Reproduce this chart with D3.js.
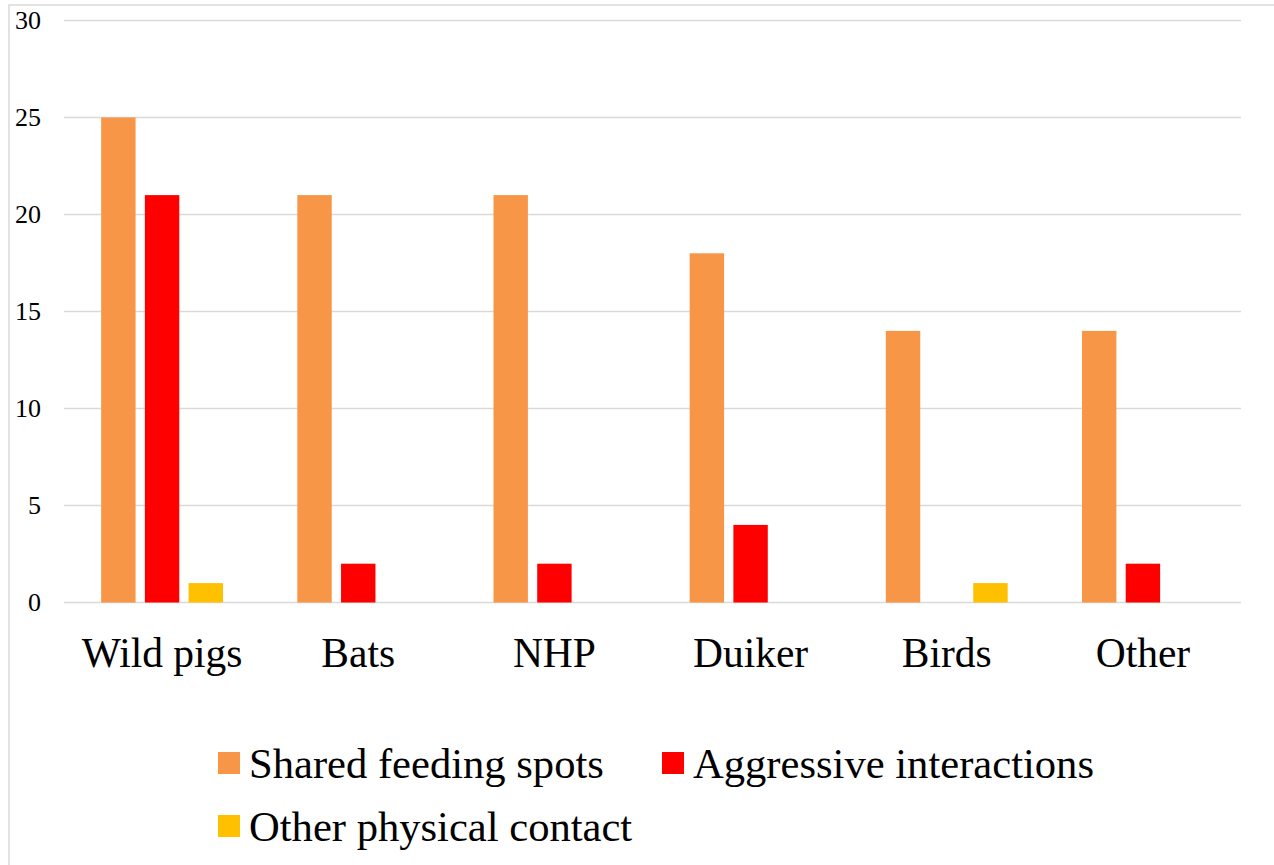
<!DOCTYPE html>
<html>
<head>
<meta charset="utf-8">
<script src="https://cdn.jsdelivr.net/npm/d3@7"></script>
<style>
  body { margin: 0; background: #fff; }
  svg text { font-family: "Liberation Serif", "Times New Roman", serif; fill: #000; }
</style>
</head>
<body>
<div id="chart"></div>
<script>
// data
const categories = ["Wild pigs", "Bats", "NHP", "Duiker", "Birds", "Other"];
const seriesNames = ["Shared feeding spots", "Aggressive interactions", "Other physical contact"];
const sharedFeeding = [25, 21, 21, 18, 14, 14];
const aggressive = [21, 2, 2, 4, 0, 2];
const physicalContact = [1, 0, 0, 0, 1, 0];
const yTicks = [0, 5, 10, 15, 20, 25, 30];
const colors = ["#F79646", "#FF0000", "#FFC000"];

const seriesValues = [sharedFeeding, aggressive, physicalContact];

const W = 1274, H = 865;
const plot = {left: 64, right: 1241, top: 20.5, bottom: 602.5};

const svg = d3.select("#chart").append("svg")
    .attr("width", W)
    .attr("height", H);

// outer frame
svg.append("rect")
    .attr("x", 9).attr("y", 5)
    .attr("width", W + 20).attr("height", H + 20)
    .attr("fill", "none")
    .attr("stroke", "#d9d9d9")
    .attr("stroke-width", 1.5);

// scales
const x0 = d3.scaleBand().domain(categories).range([plot.left, plot.right]).paddingInner(0).paddingOuter(0);
const x1 = d3.scaleBand().domain(d3.range(seriesNames.length))
    .range([0, x0.bandwidth()]).paddingInner(0.213).paddingOuter(0.85);
const y = d3.scaleLinear().domain([0, 30]).range([plot.bottom, plot.top]);

// grid
svg.append("g").selectAll("line")
    .data(yTicks)
    .join("line")
    .attr("x1", plot.left).attr("x2", plot.right)
    .attr("y1", d => y(d)).attr("y2", d => y(d))
    .attr("stroke", "#d9d9d9")
    .attr("stroke-width", 1.5);

// y axis labels
svg.append("g").selectAll("text")
    .data(yTicks)
    .join("text")
    .attr("x", 41)
    .attr("y", d => y(d))
    .attr("dy", "0.34em")
    .attr("text-anchor", "end")
    .style("font-size", "26px")
    .text(d => d);

// bars
const groups = svg.append("g").selectAll("g")
    .data(categories)
    .join("g")
    .attr("transform", d => `translate(${x0(d)},0)`);

groups.selectAll("rect")
    .data((d, i) => seriesValues.map((s, k) => ({k: k, v: s[i]})))
    .join("rect")
    .filter(d => d.v > 0)
    .attr("x", d => x1(d.k))
    .attr("width", x1.bandwidth())
    .attr("y", d => y(d.v))
    .attr("height", d => y(0) - y(d.v))
    .attr("fill", d => colors[d.k]);

// category labels
svg.append("g").selectAll("text")
    .data(categories)
    .join("text")
    .attr("x", d => x0(d) + x0.bandwidth() / 2)
    .attr("y", 667)
    .attr("text-anchor", "middle")
    .style("font-size", "41.5px")
    .text(d => d);

// legend
const legendPos = [[218, 752], [662, 752], [218, 815]];
const legend = svg.append("g").selectAll("g")
    .data(seriesNames)
    .join("g")
    .attr("transform", (d, i) => `translate(${legendPos[i][0]},${legendPos[i][1]})`);

legend.append("rect")
    .attr("width", 22).attr("height", 22)
    .attr("fill", (d, i) => colors[i]);

legend.append("text")
    .attr("x", 31)
    .attr("y", 26)
    .style("font-size", "42.6px")
    .text(d => d);
</script>
</body>
</html>
